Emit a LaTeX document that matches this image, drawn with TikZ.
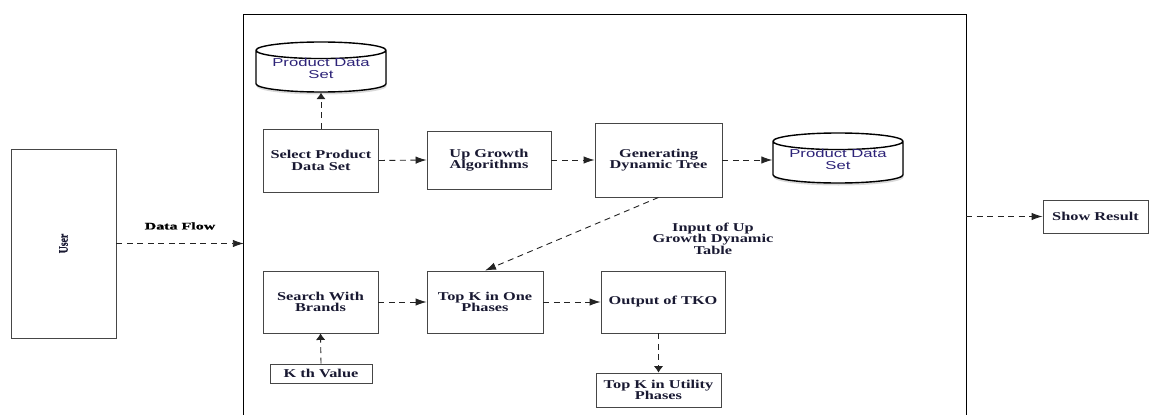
\documentclass[tikz,border=0pt]{standalone}
\usepackage{fontspec}
\usepackage{tikz}
\usetikzlibrary{shapes.geometric,arrows.meta,shadows}
\setmainfont{Liberation Serif}[FakeStretch=1.36]
\newfontfamily\cylfont{Liberation Sans}[FakeStretch=1.45]
\newfontfamily\flowfont{Liberation Serif}[FakeStretch=1.6,FakeBold=1.2]
\newfontfamily\userfont{Liberation Serif}[FakeStretch=0.75,FakeBold=0.6]
\definecolor{boxline}{RGB}{70,70,70}
\definecolor{boxtext}{RGB}{25,25,50}
\definecolor{cyltext}{RGB}{45,35,120}
\definecolor{flowline}{RGB}{35,35,35}
\newcommand{\storelabel}[2]{\raisebox{-1.5pt}[0pt][0pt]{\begin{tabular}{@{}c@{}}#1\\#2\end{tabular}}}

\begin{document}
\begin{tikzpicture}[x=1pt, y=-1pt,
  procbox/.style={rectangle, draw=boxline, line width=0.9pt, fill=white, inner sep=0pt,
    align=center, font=\fontsize{12}{11.5}\selectfont\bfseries, text=boxtext},
  datastore/.style={cylinder, shape border rotate=90, aspect=0.17, draw=black, line width=1.4pt,
    fill=white, minimum width=130pt, minimum height=50pt, inner sep=0pt, anchor=shape center,
    font=\cylfont\fontsize{11.5}{12}\selectfont, text=cyltext,
    drop shadow={opacity=0.3, shadow xshift=0.5pt, shadow yshift=-2.5pt}},
  flowh/.style={draw=flowline, line width=0.9pt, dash pattern=on 6pt off 4.5pt, -{Latex[length=11pt,width=7.5pt]}},
  flowv/.style={draw=flowline, line width=0.9pt, dash pattern=on 6pt off 4.5pt, -{Latex[length=6.5pt,width=9.5pt]}},
  note/.style={align=center, font=\fontsize{12}{11.5}\selectfont\bfseries, text=boxtext}
]
  \useasboundingbox (0,0) rectangle (1157,415);

  % system frame, open at the bottom
  \node[inner sep=0pt, minimum width=722pt, minimum height=400pt] (frame) at (605,215) {};
  \draw[line width=1.3pt] (frame.south west) -- (frame.north west) -- (frame.north east) -- (frame.south east);

  % outside
  \node[procbox, minimum width=105pt, minimum height=189pt, font=\userfont\fontsize{13}{13}\selectfont\bfseries] (user) at (63.5,243.5) {\rotatebox{90}{User}};
  \node[procbox, minimum width=105pt, minimum height=33pt] (show) at (1095.5,216.5) {Show Result};
  \node[font=\flowfont\fontsize{10}{10}\selectfont\bfseries, text=black] (flowlabel) at (180,226) {Data Flow};

  % upper row
  \node[datastore] (store1) at (321,67) {\storelabel{Product Data}{Set}};
  \node[procbox, minimum width=115pt, minimum height=63pt] (select) at (321,160.5) {Select Product\\Data Set};
  \node[procbox, minimum width=124pt, minimum height=58pt] (upgrowth) at (489,160) {Up Growth\\Algorithms};
  \node[procbox, minimum width=127pt, minimum height=74pt] (gentree) at (658.5,160) {Generating\\Dynamic Tree};
  \node[datastore] (store2) at (838,158) {\storelabel{Product Data}{Set}};
  \node[note] (inputlabel) at (713,238.5) {Input of Up\\Growth Dynamic\\Table};

  % lower row
  \node[procbox, minimum width=115pt, minimum height=62pt] (search) at (320.5,302) {Search With\\Brands};
  \node[procbox, minimum width=116pt, minimum height=62pt] (topk) at (485,302) {Top K in One\\Phases};
  \node[procbox, minimum width=124pt, minimum height=62pt] (tko) at (663,302) {Output of TKO};
  \node[procbox, minimum width=102pt, minimum height=19pt] (kth) at (321,373.5) {K th Value};
  \node[procbox, minimum width=125pt, minimum height=34pt] (utility) at (658.5,390) {Top K in Utility\\Phases};

  \draw[flowh] (user.east) -- (user.east -| frame.west);
  \draw[flowh] (show.west -| frame.east) -- (show.west);
  \draw[flowv] (select.north) -- (store1.south);
  \draw[flowh] (select.east) -- (upgrowth.west);
  \draw[flowh] (upgrowth.east) -- (gentree.west);
  \draw[flowh] (gentree.east) -- (gentree.east -| store2.west);
  \draw[flowh] (gentree.south) -- (topk.north);
  \draw[flowh] (search.east) -- (topk.west);
  \draw[flowh] (topk.east) -- (tko.west);
  \draw[flowv] (kth.north) -- (search.south);
  \draw[flowv] (utility.north |- tko.south) -- (utility.north);
\end{tikzpicture}
\end{document}
